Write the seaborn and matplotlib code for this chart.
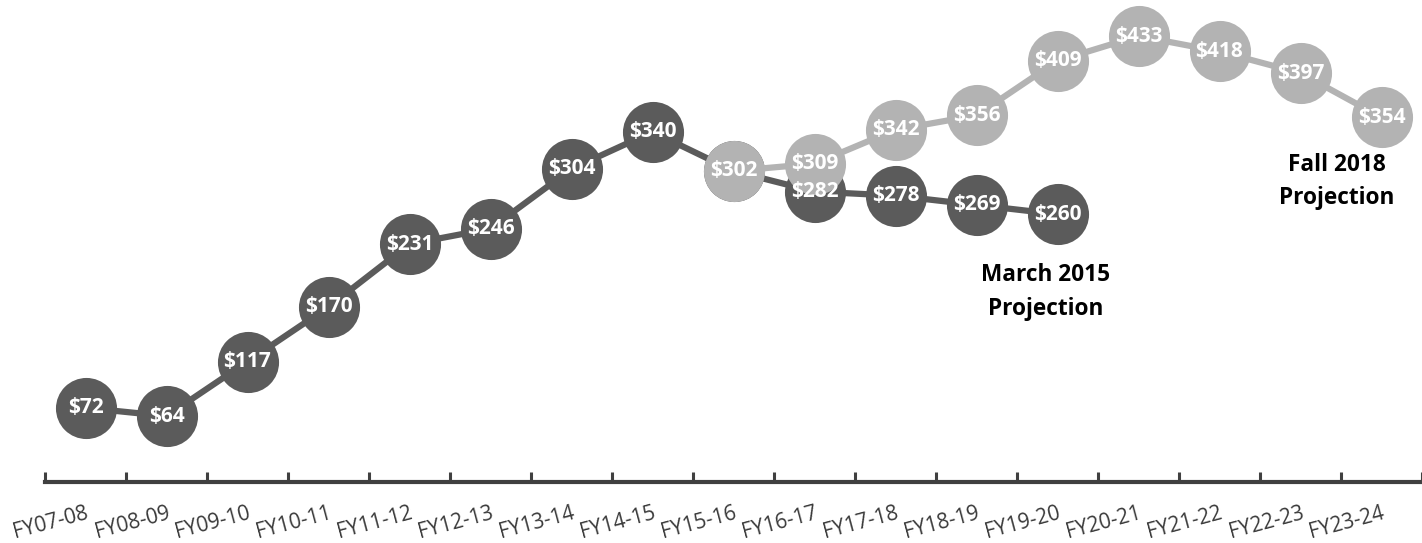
import numpy as np
import pandas as pd
import matplotlib.pyplot as plt
import seaborn as sns

years = ["FY07-08", "FY08-09", "FY09-10", "FY10-11", "FY11-12", "FY12-13",
         "FY13-14", "FY14-15", "FY15-16", "FY16-17", "FY17-18", "FY18-19",
         "FY19-20", "FY20-21", "FY21-22", "FY22-23", "FY23-24"]

# March 2015 projection (FY07-08 .. FY19-20)
march_2015 = [72, 64, 117, 170, 231, 246, 304, 340, 302, 282, 278, 269, 260]
# Fall 2018 projection (FY15-16 .. FY23-24)
fall_2018 = [302, 309, 342, 356, 409, 433, 418, 397, 354]

DARK = "#5b5b5b"
LIGHT = "#b3b3b3"

sns.set_theme(style="white")
plt.rcParams['font.family'] = ['Open Sans', 'DejaVu Sans']

df_dark = pd.DataFrame({"x": np.arange(len(march_2015)), "val": march_2015})
df_light = pd.DataFrame({"x": np.arange(len(fall_2018)) + 8, "val": fall_2018})

fig = plt.figure(figsize=(14.22, 5.43), dpi=100)
ax = fig.add_axes([45 / 1422, (543 - 482) / 543, 1 - 45 / 1422, 482 / 543])

sns.lineplot(data=df_dark, x="x", y="val", ax=ax, color=DARK, linewidth=4.5,
             marker="o", markersize=44, markeredgewidth=0, zorder=2, clip_on=False)
sns.lineplot(data=df_light, x="x", y="val", ax=ax, color=LIGHT, linewidth=4.5,
             marker="o", markersize=44, markeredgewidth=0, zorder=3, clip_on=False)

for x, v in zip(df_dark["x"], df_dark["val"]):
    if x == 8:
        continue  # hidden under the fall 2018 marker
    ax.text(x, v, f"${v}", color="white", fontsize=15, fontweight="bold",
            ha="center", va="center", zorder=5)
for x, v in zip(df_light["x"], df_light["val"]):
    ax.text(x, v, f"${v}", color="white", fontsize=15, fontweight="bold",
            ha="center", va="center", zorder=5)

ax.text(11.85, 201, "March 2015", fontsize=16.3, fontweight="bold",
        color="black", ha="center", va="center")
ax.text(11.85, 168, "Projection", fontsize=16.3, fontweight="bold",
        color="black", ha="center", va="center")
ax.text(15.45, 308, "Fall 2018", fontsize=16.3, fontweight="bold",
        color="black", ha="center", va="center")
ax.text(15.45, 276, "Projection", fontsize=16.3, fontweight="bold",
        color="black", ha="center", va="center")

ax.set_xlim(-0.5, 16.5)
ax.set_ylim(0, 468)
ax.set_yticks([])
ax.set_xticks(range(len(years)))
ax.set_xticklabels(years, rotation=15, ha="right", rotation_mode="anchor",
                   fontsize=15, color="#3a3a3a")
ax.tick_params(axis="x", which="major", length=0, pad=15)
ax.set_xticks(np.arange(-0.5, 17), minor=True)
ax.tick_params(axis="x", which="minor", direction="in", length=7, width=2.2,
               color="#404040", bottom=True)
ax.set_xlabel("")
ax.set_ylabel("")

for s in ["top", "right", "left"]:
    ax.spines[s].set_visible(False)
ax.spines["bottom"].set_color("#404040")
ax.spines["bottom"].set_linewidth(3)

fig.savefig("out.png", dpi=100)
